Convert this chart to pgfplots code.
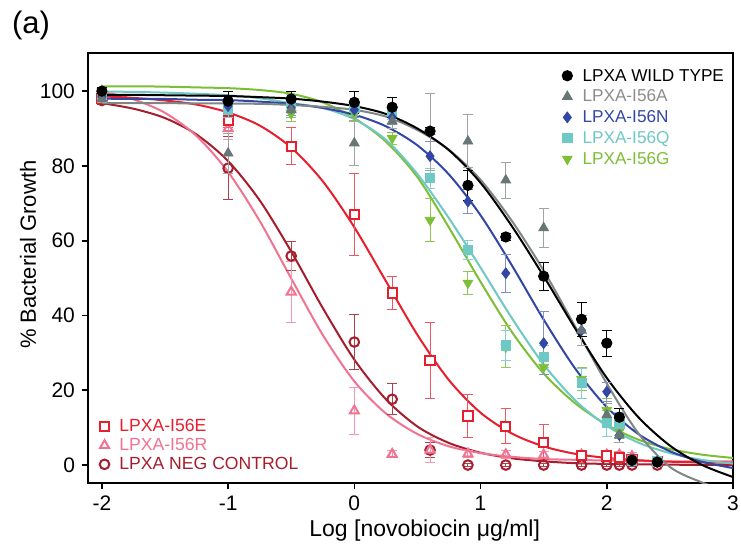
\documentclass[border=0pt]{standalone}
\usepackage{fontspec}
\setmainfont{Liberation Sans}
\usepackage{pgfplots}
\usepackage{pgfplotstable}
\pgfplotsset{compat=1.18}

\definecolor{cgray}{RGB}{128,134,134}
\definecolor{cgrayM}{RGB}{105,118,118}
\definecolor{cgrayT}{RGB}{140,140,140}
\definecolor{cblue}{RGB}{50,70,165}
\definecolor{ccyan}{RGB}{110,200,195}
\definecolor{cgreen}{RGB}{125,190,55}
\definecolor{cred}{RGB}{230,30,45}
\definecolor{cpink}{RGB}{240,115,145}
\definecolor{cdred}{RGB}{165,30,45}

% fitted dose-response curves
\pgfplotstableread{
x     wt    a     n     q     g     e     r     neg
-2.00 99.0  96.8  98.0  99.9  101.3 98.6  99.9  96.8
-1.75 99.0  96.8  97.9  99.8  101.3 98.2  97.8  95.3
-1.50 98.9  96.8  97.9  99.6  101.2 97.5  94.2  92.8
-1.25 98.8  96.7  97.7  99.3  101.0 96.4  88.0  88.4
-1.00 98.7  96.7  97.6  98.9  100.8 94.3  78.4  81.3
-0.75 98.4  96.6  97.2  98.1  100.3 90.8  65.3  70.8
-0.50 98.0  96.3  96.6  96.8  99.3  84.9  49.9  57.1
-0.25 97.2  95.8  95.5  95.5  97.0  75.9  34.8  42.0
0.00  96.0  95.0  93.7  92.5  92.8  63.6  22.4  28.2
0.25  93.9  93.2  90.6  87.0  86.5  49.2  13.8  17.6
0.50  90.0  89.6  85.5  77.8  77.0  34.8  8.3   10.3
0.75  84.2  84.3  77.7  66.0  63.5  22.7  5.0   5.9
1.00  75.5  76.3  66.8  52.8  49.0  14.0  3.2   3.3
1.25  63.8  65.2  53.3  39.2  35.5  8.4   2.2   1.8
1.50  50.5  52.0  38.9  26.9  24.5  5.0   1.6   1.0
1.75  36.5  37.0  25.8  17.3  16.5  3.0   1.4   0.5
2.00  23.3  21.8  15.5  10.5  10.8  1.9   1.2   0.3
2.25  12.8  8.5   8.3   6.0   6.8   1.3   1.1   0.2
2.50  5.2   -0.5  3.7   3.2   4.3   0.9   1.0   0.1
2.75  0.1   -4.6  0.9   1.4   2.8   0.7   1.0   0.05
3.00  -3.2  -7.5  -0.8  0.4   1.9   0.6   1.0   0.0
}\fits

\pgfplotsset{
  frame/.style={
    width=322.5pt, height=215pt, scale only axis,
    xmin=-2.11, xmax=3, ymin=-4.8, ymax=110.2,
    legend image code/.code={\draw[#1] plot coordinates {(0cm,0cm)};},
    reverse legend, legend cell align=left,
  },
  fit/.style={no marks, smooth, line width=1pt, forget plot},
  eb/.style={
    /pgfplots/error bars/y dir=both,
    /pgfplots/error bars/y explicit,
    /pgfplots/error bars/error bar style={line width=0.5pt, #1},
    /pgfplots/error bars/error mark options={rotate=90, line width=0.5pt, mark size=2.5pt, #1},
  },
}

\begin{document}
\begin{tikzpicture}
% back axis: frame, labels and the red group
\begin{axis}[
  frame, name=main,
  axis line style={line width=0.8pt},
  tick style={black, line width=0.8pt},
  major tick length=3pt, tick align=outside,
  xtick pos=bottom, ytick pos=left,
  xtick={-2,-1,0,1,2,3},
  ytick={0,20,40,60,80,100},
  /pgf/number format/assume math mode=true,
  tick label style={font=\fontsize{10.5}{12}\selectfont},
  xlabel={Log [novobiocin μg/ml]},
  ylabel={\% Bacterial Growth},
  xlabel style={font=\fontsize{11.5}{13}\selectfont, at={(axis description cs:0.522,-0.11)}, anchor=center},
  ylabel style={font=\fontsize{11}{13}\selectfont, at={(axis description cs:-0.093,0.531)}, anchor=center},
  legend style={draw=none, fill=none, at={(axis cs:-2.02,13.0)}, anchor=north west,
    font=\fontsize{8.8}{10}\selectfont, inner sep=0pt, row sep=0pt,
    nodes={inner sep=1pt, text height=6.5pt, text depth=1.0pt},
    /tikz/every odd column/.append style={column sep=4pt}},
]
\addplot[fit, cdred] table[x=x, y=neg] {\fits};
\addplot[fit, cpink] table[x=x, y=r] {\fits};
\addplot[fit, cred] table[x=x, y=e] {\fits};

\addplot[only marks, mark=o, mark size=2.4pt, cdred, mark options={line width=1pt}, eb={cdred!85}]
  coordinates {
  (-2,97.5) +- (0,1) (-1,79.4) +- (0,8.5) (-0.5,55.9) +- (0,4) (0,32.9) +- (0,7.4)
  (0.3,17.6) +- (0,4.2) (0.6,4) +- (0,2) (0.9,0) +- (0,0.5) (1.2,0) +- (0,0.5)
  (1.5,0) +- (0,0.5) (1.8,0) +- (0,0.5) (2,0) +- (0,0.5) (2.1,0) +- (0,0.5)
  (2.2,0) +- (0,0.5) (2.4,0) +- (0,0.5)
};
\addlegendentry{\textcolor{cdred}{LPXA NEG CONTROL}}
\addplot[only marks, mark=triangle, mark size=2.6pt, cpink, mark options={line width=1pt}, eb={cpink!75}]
  coordinates {
  (-2,100) +- (0,1) (-1,90) +- (0,3) (-0.5,46.3) +- (0,8.2) (0,14.5) +- (0,6.2)
  (0.3,2.9) +- (0,1) (0.6,4) +- (0,3.3) (0.9,3) +- (0,1) (1.2,2.8) +- (0,1)
  (1.5,2.7) +- (0,1) (1.8,2.7) +- (0,1) (2,2.7) +- (0,1) (2.1,2.7) +- (0,1)
  (2.2,2.3) +- (0,1)
};
\addlegendentry{\textcolor{cpink}{LPXA-I56R}}
\addplot[only marks, mark=square*, mark size=2.3pt, cred, mark options={line width=1pt, fill=white}, eb={cred!75}]
  coordinates {
  (-2,98) +- (0,1) (-1,92.2) +- (0,2) (-0.5,85.3) +- (0,4.9) (0,67.1) +- (0,11)
  (0.3,46) +- (0,4.5) (0.6,28) +- (0,10.2) (0.9,13.1) +- (0,5.8) (1.2,10.4) +- (0,4.7)
  (1.5,6.1) +- (0,4.7) (1.8,2.5) +- (0,1) (2,2.4) +- (0,1) (2.1,2) +- (0,1)
  (2.2,1.5) +- (0,0.8) (2.4,1) +- (0,0.5)
};
\addlegendentry{\textcolor{cred}{LPXA-I56E}}
\end{axis}

% front axis: wild type and the other mutants
\begin{axis}[
  frame, hide axis,
  legend style={draw=none, fill=none, at={(axis cs:1.643,107)}, anchor=north west,
    font=\fontsize{8.6}{10}\selectfont, inner sep=0pt, row sep=0pt,
    nodes={inner sep=1pt, text height=6.9pt, text depth=1.5pt},
    /tikz/every odd column/.append style={column sep=4pt}},
]
\addplot[fit, cgreen] table[x=x, y=g] {\fits};
\addplot[fit, ccyan] table[x=x, y=q] {\fits};
\addplot[fit, cblue] table[x=x, y=n] {\fits};
\addplot[fit, cgray] table[x=x, y=a] {\fits};
\addplot[fit, black] table[x=x, y=wt] {\fits};

\addplot[only marks, mark=triangle*, mark size=2.8pt, cgreen, mark options={rotate=180}, eb={cgreen!85}]
  coordinates {
  (-2,100) +- (0,1) (-1,96) +- (0,2) (-0.5,94) +- (0,2) (0,94) +- (0,2)
  (0.3,87.4) +- (0,1.6) (0.6,65.5) +- (0,5.8) (0.9,48.7) +- (0,3) (1.2,31.6) +- (0,5.6)
  (1.5,26.2) +- (0,2) (1.8,23) +- (0,3) (2,14.7) +- (0,3) (2.1,9) +- (0,2)
  (2.2,1) +- (0,1) (2.4,1) +- (0,1)
};
\addlegendentry{\textcolor{cgreen}{LPXA-I56G}}
\addplot[only marks, mark=square*, mark size=2.3pt, ccyan, eb={ccyan!85}]
  coordinates {
  (-2,99) +- (0,1) (-1,95) +- (0,2) (-0.5,97) +- (0,2) (0,95.5) +- (0,2)
  (0.3,94.4) +- (0,2) (0.6,76.7) +- (0,2.7) (0.9,57.5) +- (0,2.5) (1.2,32) +- (0,4)
  (1.5,29) +- (0,3) (1.8,21.9) +- (0,4) (2,11.2) +- (0,3.5) (2.1,11) +- (0,3)
  (2.2,1.2) +- (0,1) (2.4,1) +- (0,1)
};
\addlegendentry{\textcolor{ccyan}{LPXA-I56Q}}
\addplot[only marks, mark=diamond*, mark size=2.7pt, cblue, eb={cblue!60}]
  coordinates {
  (-2,98.5) +- (0,1) (-1,96) +- (0,2) (-0.5,95.5) +- (0,2) (0,95) +- (0,2)
  (0.3,93) +- (0,2) (0.6,82.6) +- (0,3.8) (0.9,70.5) +- (0,3.1) (1.2,51.3) +- (0,5.1)
  (1.5,32.6) +- (0,8.5) (1.8,36) +- (0,4) (2,19.6) +- (0,2.5) (2.1,8) +- (0,2)
  (2.2,1) +- (0,1) (2.4,0.8) +- (0,0.5)
};
\addlegendentry{\textcolor{cblue}{LPXA-I56N}}
\addplot[only marks, mark=triangle*, mark size=2.8pt, cgrayM, eb={cgray!75}]
  coordinates {
  (-2,98) +- (0,1) (-1,83.4) +- (0,5.3) (-0.5,95) +- (0,2) (0,86.1) +- (0,6)
  (0.3,92) +- (0,2) (0.6,89.2) +- (0,10.3) (0.9,86.6) +- (0,7.1) (1.2,76.2) +- (0,4.8)
  (1.5,63.4) +- (0,5.3) (1.8,36) +- (0,4) (2,13.4) +- (0,3) (2.1,8) +- (0,2)
  (2.2,1.5) +- (0,1) (2.4,1) +- (0,1)
};
\addlegendentry{\textcolor{cgrayT}{LPXA-I56A}}
\addplot[only marks, mark=*, mark size=2.6pt, black, eb={black}]
  coordinates {
  (-2,100) +- (0,1) (-1,97.3) +- (0,2.5) (-0.5,97.9) +- (0,2) (0,97) +- (0,2.9)
  (0.3,95.7) +- (0,2.7) (0.6,89.3) +- (0,1) (0.9,74.8) +- (0,4) (1.2,61) +- (0,1)
  (1.5,50.5) +- (0,3.8) (1.8,39) +- (0,4.5) (2,32.6) +- (0,3.5) (2.1,12.8) +- (0,2.2)
  (2.2,1.3) +- (0,0.8) (2.4,0.8) +- (0,0.5)
};
\addlegendentry{LPXA WILD TYPE}
\end{axis}

\node[font=\fontsize{15.5}{18}\selectfont] at ([shift={(-28.5pt,14pt)}]main.north west) {(a)};

\pgfresetboundingbox
\path ([shift={(-44pt,-35.5pt)}]main.south west) rectangle ([shift={(4pt,26.5pt)}]main.north east);
\end{tikzpicture}
\end{document}
